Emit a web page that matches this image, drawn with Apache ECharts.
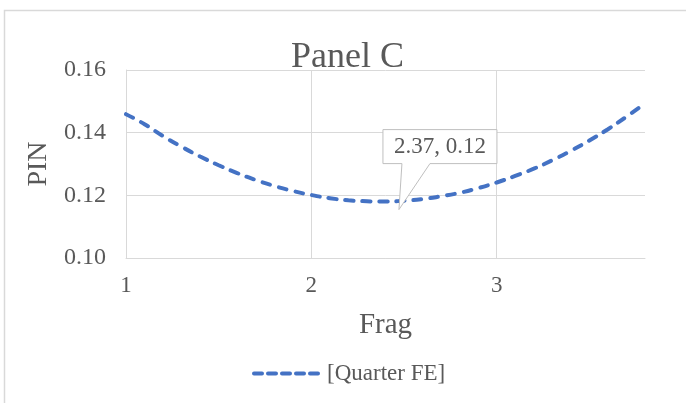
<!DOCTYPE html>
<html>
<head>
<meta charset="utf-8">
<script src="https://cdn.jsdelivr.net/npm/echarts@6/dist/echarts.min.js"></script>
<style>
html,body{margin:0;padding:0;background:#fff;}
#chart{width:686px;height:403px;}
</style>
</head>
<body>
<div id="chart"></div>
<script>
// ---- data ----
const titleText = "Panel C";
const xName = "Frag";
const yName = "PIN";
const seriesName = "[Quarter FE]";
const fragValues = [1.0, 1.1, 1.2, 1.3, 1.4, 1.5, 1.6, 1.7, 1.8, 1.9, 2.0, 2.1, 2.2, 2.3, 2.37, 2.4, 2.5, 2.6, 2.7, 2.8, 2.9, 3.0, 3.1, 3.2, 3.3, 3.4, 3.5, 3.6, 3.7, 3.8];
const pinValues = [0.1459, 0.1427, 0.1389, 0.1355, 0.1324, 0.1296, 0.1271, 0.1249, 0.1230, 0.1214, 0.1201, 0.1191, 0.1184, 0.1181, 0.1180, 0.1180, 0.1183, 0.1188, 0.1197, 0.1208, 0.1223, 0.1241, 0.1262, 0.1285, 0.1312, 0.1342, 0.1375, 0.1411, 0.1451, 0.1493];
const yTicks = [0.10, 0.12, 0.14, 0.16];
const xTicks = [1, 2, 3];
const annotX = 2.37;
const annotY = 0.118;
const annotText = "2.37, 0.12";

const FONT = "'Liberation Serif', 'Times New Roman', serif";
const TXT = "#595959";
const GRID = "#d9d9d9";
const BLUE = "#4472C4";

const chart = echarts.init(document.getElementById('chart'), null, {renderer: 'canvas'});
const lineData = fragValues.map((x, i) => [x, pinValues[i]]);

chart.setOption({
  animation: false,
  backgroundColor: '#fff',
  title: {
    text: titleText,
    left: 286, top: 35,
    textStyle: {fontFamily: FONT, fontSize: 36, fontWeight: 'normal', color: TXT}
  },
  grid: {left: 126, top: 70, right: 41, bottom: 145, containLabel: false},
  xAxis: {
    type: 'value',
    min: xTicks[0], max: 3.8, interval: 1,
    name: xName, nameLocation: 'middle', nameGap: 53,
    nameTextStyle: {fontFamily: FONT, fontSize: 29, color: TXT},
    axisLine: {show: true, lineStyle: {color: GRID, width: 1}},
    axisTick: {show: false},
    axisLabel: {
      fontFamily: FONT, fontSize: 23, color: TXT, margin: 16,
      showMaxLabel: false,
      formatter: v => xTicks.includes(v) ? String(v) : ''
    },
    splitLine: {show: true, showMaxLine: false, lineStyle: {color: GRID, width: 1}}
  },
  yAxis: {
    type: 'value',
    min: yTicks[0], max: yTicks[yTicks.length - 1], interval: 0.02,
    name: yName, nameLocation: 'middle', nameGap: 71,
    nameTextStyle: {fontFamily: FONT, fontSize: 28, color: TXT},
    axisLine: {show: true, lineStyle: {color: GRID, width: 1}},
    axisTick: {show: false},
    axisLabel: {
      fontFamily: FONT, fontSize: 24, color: TXT, margin: 20,
      formatter: v => v.toFixed(2)
    },
    splitLine: {show: true, lineStyle: {color: GRID, width: 1}}
  },
  legend: {
    data: [seriesName],
    left: 252, top: 362, padding: 0,
    itemWidth: 68, itemHeight: 14, itemGap: 10,
    itemStyle: {opacity: 0},
    lineStyle: {width: 4, type: [8, 6], cap: 'round'},
    textStyle: {fontFamily: FONT, fontSize: 23, color: TXT}
  },
  series: [{
    name: seriesName,
    type: 'line',
    data: lineData,
    smooth: true,
    showSymbol: false,
    symbol: 'none',
    lineStyle: {color: BLUE, width: 4, type: [8, 9], cap: 'round'},
    itemStyle: {color: BLUE}
  }]
});

function drawAnnotation() {
  const p = chart.convertToPixel({gridIndex: 0}, [annotX, annotY]);
  const tipX = p[0] + 19, tipY = p[1] + 8;
  const L = p[0] + 3, T = p[1] - 72, W = 114, H = 34;
  const R = L + W, B = T + H;
  const p1 = p[0] + 22, p2 = p[0] + 50;
  chart.setOption({
    graphic: [
      {
        type: 'rect', silent: true, z: 0,
        shape: {x: 4.5, y: 10.5, width: 720, height: 440},
        style: {fill: 'none', stroke: GRID, lineWidth: 1.5}
      },
      {
        type: 'polygon', silent: true, z: 100,
        shape: {points: [[L, T], [R, T], [R, B], [p2, B], [tipX, tipY], [p1, B], [L, B]]},
        style: {fill: '#fff', stroke: '#bfbfbf', lineWidth: 1}
      },
      {
        type: 'text', silent: true, z: 101,
        x: (L + R) / 2, y: (T + B) / 2,
        style: {text: annotText, font: "23px " + FONT, fill: TXT, align: 'center', verticalAlign: 'middle'}
      }
    ]
  });
}
drawAnnotation();
</script>
</body>
</html>
